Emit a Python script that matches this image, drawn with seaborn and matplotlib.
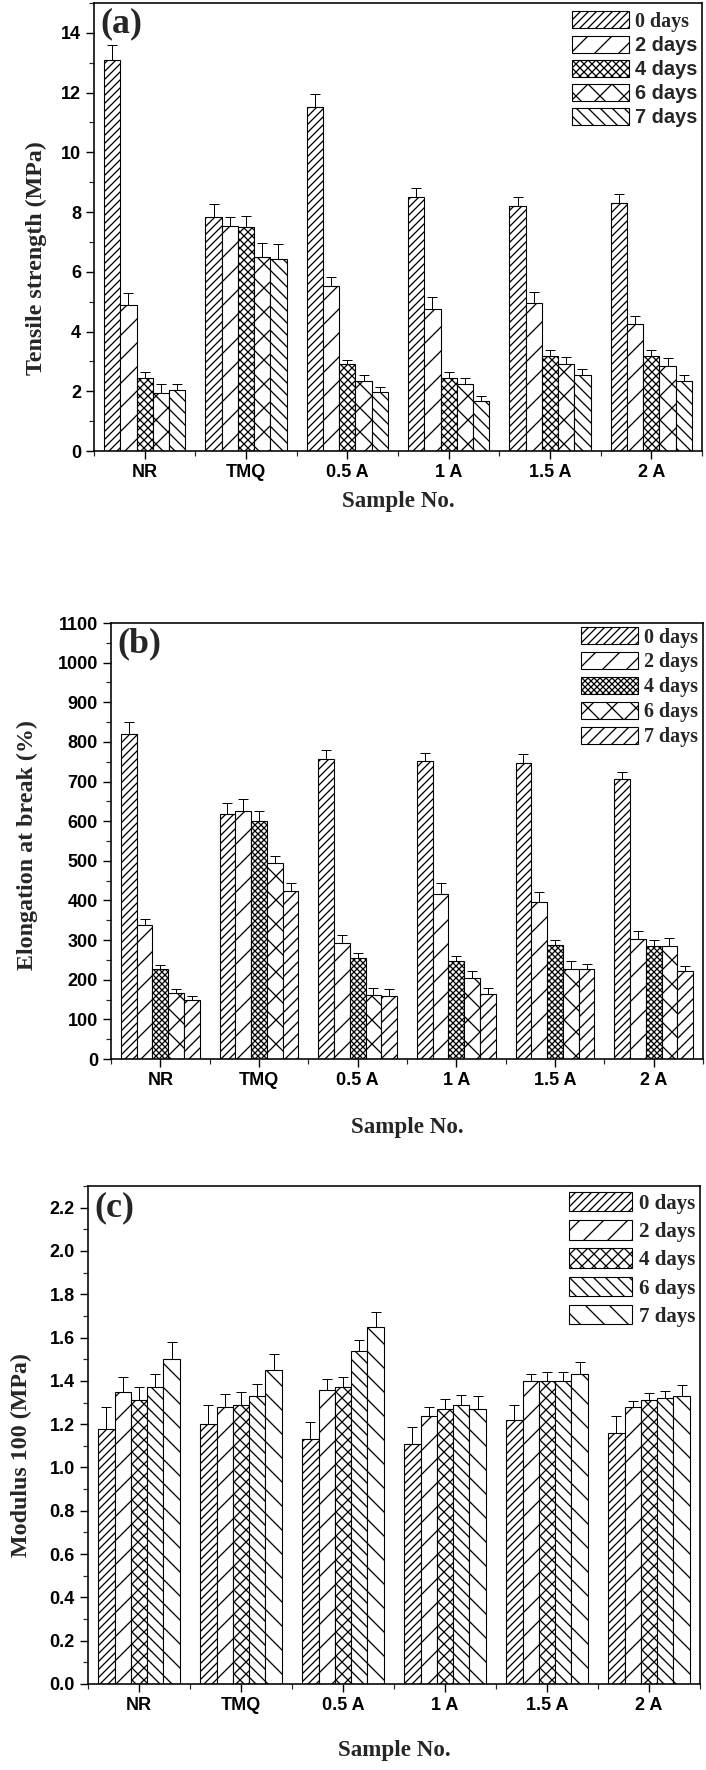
import numpy as np
import pandas as pd
import matplotlib
matplotlib.use('Agg')
import matplotlib.pyplot as plt
from matplotlib.patches import Patch
from matplotlib.ticker import MultipleLocator, FixedLocator, FormatStrFormatter
import seaborn as sns

# --- Data ---
samples = ['NR', 'TMQ', '0.5 A', '1 A', '1.5 A', '2 A']
days = ['0 days', '2 days', '4 days', '6 days', '7 days']

# (a) tensile strength, MPa; one list per ageing time, across samples
ts_0 = [13.08, 7.85, 11.51, 8.51, 8.21, 8.31]
ts_2 = [4.89, 7.54, 5.54, 4.74, 4.94, 4.24]
ts_4 = [2.45, 7.49, 2.91, 2.46, 3.18, 3.18]
ts_6 = [1.95, 6.48, 2.34, 2.24, 2.90, 2.86]
ts_7 = [2.04, 6.43, 1.99, 1.68, 2.53, 2.34]
ts_err_0 = [0.50, 0.42, 0.45, 0.29, 0.30, 0.30]
ts_err_2 = [0.39, 0.29, 0.30, 0.42, 0.40, 0.29]
ts_err_4 = [0.18, 0.39, 0.15, 0.18, 0.20, 0.20]
ts_err_6 = [0.31, 0.48, 0.19, 0.21, 0.25, 0.24]
ts_err_7 = [0.20, 0.49, 0.14, 0.15, 0.20, 0.19]

# (b) elongation at break, %
eb_0 = [821, 619, 758, 753, 748, 707]
eb_2 = [337, 625, 293, 417, 397, 302]
eb_4 = [226, 601, 254, 248, 287, 285]
eb_6 = [167, 495, 161, 205, 227, 284]
eb_7 = [148, 425, 160, 165, 227, 223]
eb_err_0 = [30, 26, 22, 20, 22, 17]
eb_err_2 = [15, 30, 20, 26, 24, 20]
eb_err_4 = [12, 24, 14, 12, 12, 14]
eb_err_6 = [10, 18, 18, 18, 21, 22]
eb_err_7 = [10, 18, 16, 13, 13, 12]

# (c) modulus at 100 %, MPa
m_0 = [1.18, 1.20, 1.13, 1.11, 1.22, 1.16]
m_2 = [1.35, 1.28, 1.36, 1.24, 1.40, 1.28]
m_4 = [1.31, 1.29, 1.37, 1.27, 1.40, 1.31]
m_6 = [1.37, 1.33, 1.54, 1.29, 1.40, 1.32]
m_7 = [1.50, 1.45, 1.65, 1.27, 1.43, 1.33]
m_err_0 = [0.10, 0.09, 0.08, 0.075, 0.07, 0.08]
m_err_2 = [0.07, 0.06, 0.05, 0.04, 0.03, 0.025]
m_err_4 = [0.06, 0.06, 0.05, 0.045, 0.04, 0.035]
m_err_6 = [0.06, 0.055, 0.05, 0.045, 0.04, 0.035]
m_err_7 = [0.08, 0.075, 0.07, 0.06, 0.055, 0.05]

SERIF = 'Liberation Serif'
SANS = 'Liberation Sans'

sns.set_style('ticks')
plt.rcParams['font.family'] = [SANS, 'DejaVu Sans']
plt.rcParams['font.weight'] = 'bold'
plt.rcParams['hatch.linewidth'] = 1.3
plt.rcParams['hatch.color'] = 'black'

W, H, DPI = 706, 1770, 72
fig = plt.figure(figsize=(W / DPI, H / DPI), dpi=DPI)


def make_df(values, errors):
    rows = []
    for d, vals, errs in zip(days, values, errors):
        for s, v, e in zip(samples, vals, errs):
            rows.append({'sample': s, 'day': d, 'value': v, 'err': e})
    return pd.DataFrame(rows)


def add_axes_px(left, top, right, bottom):
    return fig.add_axes([left / W, 1 - bottom / H, (right - left) / W, (bottom - top) / H])


def draw_panel(ax, df, hatches, ylim, major, minor, ylabel, ylabel_size, ylabel_xy,
               xlabel_pad, tag, leg_top, leg_size, leg_hl, leg_hh, leg_sp,
               leg_families, yfmt=None):
    sns.barplot(data=df, x='sample', y='value', hue='day', order=samples,
                hue_order=days, palette={d: 'white' for d in days}, saturation=1,
                edgecolor='black', linewidth=1.1, width=0.8, gap=0,
                errorbar=None, legend=False, ax=ax)

    # hatch each ageing time and add one-sided error bars
    for cont, hatch, d in zip(ax.containers, hatches, days):
        sub = df[df['day'] == d].set_index('sample').loc[samples]
        xs, ys = [], []
        for bar in cont:
            bar.set_hatch(hatch)
            xs.append(bar.get_x() + bar.get_width() / 2)
            ys.append(bar.get_height())
        ax.errorbar(xs, ys, yerr=[np.zeros(len(xs)), sub['err'].values],
                    fmt='none', ecolor='black', elinewidth=1.0, capsize=5,
                    capthick=1.0, zorder=3)

    ax.set_xlim(-0.5, 5.5)
    ax.set_ylim(*ylim)
    ax.yaxis.set_major_locator(MultipleLocator(major))
    ax.yaxis.set_minor_locator(MultipleLocator(minor))
    if yfmt:
        ax.yaxis.set_major_formatter(FormatStrFormatter(yfmt))
    ax.xaxis.set_minor_locator(FixedLocator(np.arange(-0.5, 6, 1)))

    for sp in ax.spines.values():
        sp.set_visible(True)
        sp.set_linewidth(1.6)
        sp.set_color('black')
    ax.tick_params(which='major', direction='out', length=8, width=1.4,
                   labelsize=18, pad=5, colors='black')
    ax.tick_params(which='minor', direction='out', length=5, width=1.2)
    ax.tick_params(top=False, right=False, which='both')
    for lab in ax.get_xticklabels() + ax.get_yticklabels():
        lab.set_fontweight('bold')
        lab.set_fontfamily(SANS)

    ax.set_xlabel('Sample No.', fontsize=23, fontweight='bold', family=SERIF,
                  labelpad=xlabel_pad)
    ax.set_ylabel(ylabel, fontsize=ylabel_size, fontweight='bold', family=SERIF)
    ax.yaxis.set_label_coords(*ylabel_xy)

    ax.text(0.01, 0.99, tag, transform=ax.transAxes, ha='left', va='top',
            fontsize=36, fontweight='bold', family=SERIF)

    handles = [Patch(facecolor='white', edgecolor='black', hatch=h, linewidth=1.1)
               for h in hatches]
    bb = ax.get_position()
    leg = ax.legend(handles, days, loc='upper right',
                    bbox_to_anchor=(bb.x1 - 5 / W, bb.y1 - leg_top / H),
                    bbox_transform=fig.transFigure, frameon=False,
                    fontsize=leg_size, handlelength=leg_hl, handleheight=leg_hh,
                    handletextpad=0.3, labelspacing=leg_sp, borderpad=0,
                    borderaxespad=0)
    for t, fam in zip(leg.get_texts(), leg_families):
        t.set_fontfamily(fam)
        t.set_fontweight('bold')


# --- Panel (a) ---
ax_a = add_axes_px(94, 3, 702, 451)
df_a = make_df([ts_0, ts_2, ts_4, ts_6, ts_7],
               [ts_err_0, ts_err_2, ts_err_4, ts_err_6, ts_err_7])
draw_panel(ax_a, df_a, ['///', '/', 'xxx', 'x', '\\\\'], (0, 15), 2, 1,
           'Tensile strength (MPa)', 24, (-0.077, 0.43), 10, '(a)',
           8, 20, 2.85, 0.95, 0.22, [SERIF, SANS, SANS, SANS, SANS])

# --- Panel (b) ---
ax_b = add_axes_px(111, 623, 703, 1059)
df_b = make_df([eb_0, eb_2, eb_4, eb_6, eb_7],
               [eb_err_0, eb_err_2, eb_err_4, eb_err_6, eb_err_7])
draw_panel(ax_b, df_b, ['///', '/', 'xxxx', 'x', '//'], (0, 1100), 100, 50,
           'Elongation at break (%)', 24, (-0.123, 0.49), 28, '(b)',
           4, 20, 2.85, 0.95, 0.22, [SERIF] * 5)

# --- Panel (c) ---
ax_c = add_axes_px(88, 1186, 700, 1684)
df_c = make_df([m_0, m_2, m_4, m_6, m_7],
               [m_err_0, m_err_2, m_err_4, m_err_6, m_err_7])
draw_panel(ax_c, df_c, ['///', '/', 'xx', '\\\\', '\\'], (0, 2.3), 0.2, 0.1,
           'Modulus 100 (MPa)', 24, (-0.092, 0.46), 26, '(c)',
           6, 21, 3.0, 1.05, 0.3, [SERIF] * 5, yfmt='%.1f')

fig.savefig('out.png', dpi=DPI)
